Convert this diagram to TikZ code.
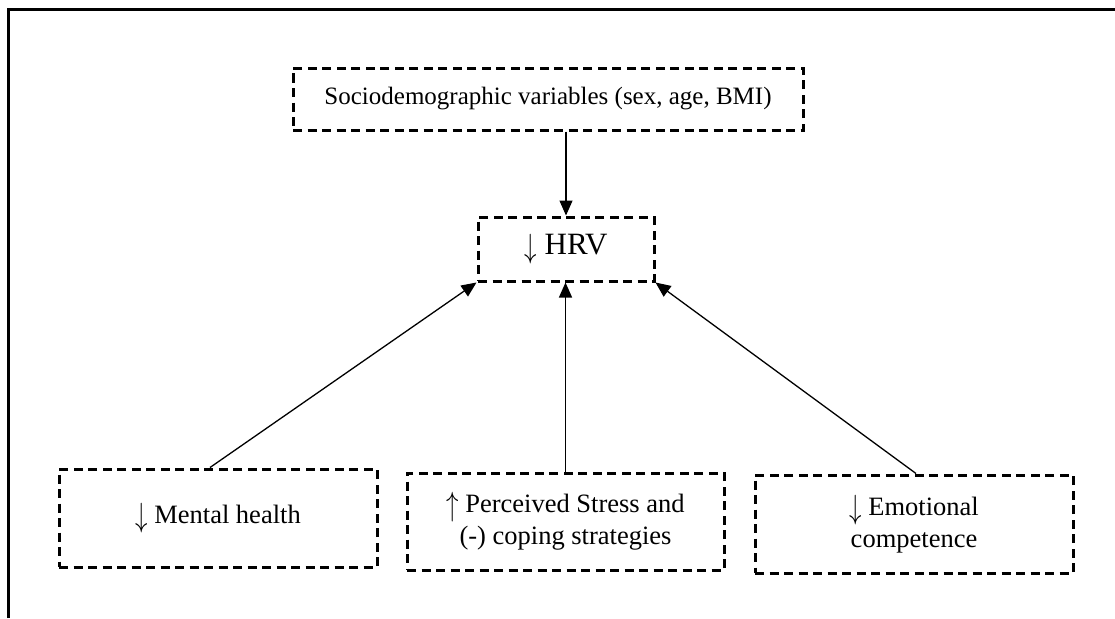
\documentclass[tikz,border=0pt]{standalone}
\usepackage{fontspec}
\setmainfont{Liberation Serif}
\usetikzlibrary{arrows.meta}
\newcommand{\dn}{\raisebox{-0.12em}{\scalebox{1}[1.35]{$\downarrow$}}}
\newcommand{\upar}{\raisebox{-0.12em}{\scalebox{1}[1.35]{$\uparrow$}}}
\tikzset{
  dbox/.style={draw, line width=3pt, dash pattern=on 9pt off 5.5pt, rectangle, inner sep=0pt, align=center},
  arr/.style={line width=1.3pt, -{Triangle[length=15pt,width=13pt]}},
  frame/.style={line width=3pt}
}
\begin{document}
\begin{tikzpicture}[x=1pt,y=-1pt]
\useasboundingbox (0,0) rectangle (1115,618);
\draw[frame] (8,618) -- (8,10) -- (1115,10);
\node[dbox, minimum width=510pt, minimum height=62pt, font=\fontsize{25}{30}\selectfont] (socio) at (548,99) {Sociodemographic variables (sex, age, BMI)};
\node[dbox, minimum width=176pt, minimum height=64pt, font=\fontsize{31}{36}\selectfont] (hrv) at (566,249) {\dn\ HRV};
\node[dbox, minimum width=318pt, minimum height=98pt, font=\fontsize{26.5}{32}\selectfont] (mental) at (218,518) {\dn\ Mental health};
\node[dbox, minimum width=317pt, minimum height=97pt, font=\fontsize{26.5}{32}\selectfont] (perc) at (565.5,521.5) {\upar\ Perceived Stress and\\(-) coping strategies};
\node[dbox, minimum width=318pt, minimum height=98pt, font=\fontsize{26.5}{32}\selectfont] (emo) at (914,524) {\dn\ Emotional\\competence};
\draw[arr] (socio.south -| hrv.north) -- (hrv.north);
\draw[arr] ([xshift=-8pt]mental.north) -- (hrv.south west);
\draw[arr] (perc.north) -- (perc.north |- hrv.south);
\draw[arr] ([xshift=2pt]emo.north) -- (hrv.south east);
\end{tikzpicture}
\end{document}
